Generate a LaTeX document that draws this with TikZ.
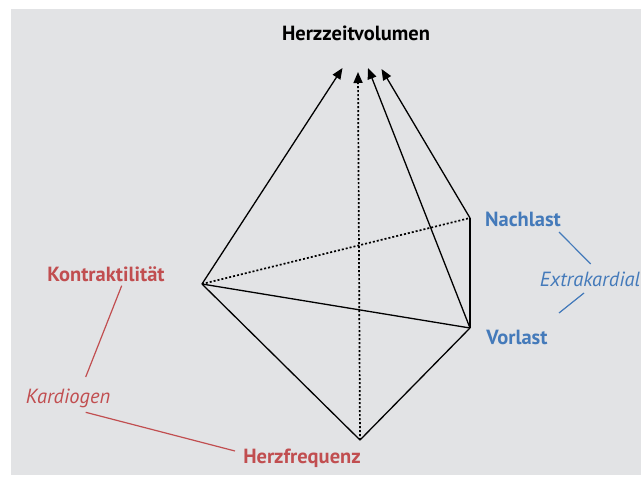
\documentclass[tikz,border=0pt]{standalone}
\usepackage{fontspec}
\setmainfont{PT Sans}
\usetikzlibrary{arrows.meta}
\definecolor{bg}{RGB}{226,227,229}
\definecolor{kred}{RGB}{193,78,80}
\definecolor{kblue}{RGB}{68,122,186}
\begin{document}
\begin{tikzpicture}[x=1pt,y=-1pt,
  edge/.style={line width=1.3pt, black},
  dotedge/.style={line width=1.7pt, black, dash pattern=on 2pt off 2pt},
  arr/.style={-{Triangle[length=11pt,width=9pt]}},
  lbl/.style={font=\fontsize{20.5}{24}\selectfont\bfseries, inner sep=0pt},
  ilbl/.style={font=\fontsize{20.5}{24}\selectfont\itshape, inner sep=0pt},
  redline/.style={kred, line width=1.2pt},
  blueline/.style={kblue, line width=1.2pt}]
\useasboundingbox (0,0) rectangle (641,477);
\fill[bg] (11,9) rectangle (641,475);
% vertices
\coordinate (K) at (202,284);
\coordinate (N) at (470,218);
\coordinate (V) at (470,328);
\coordinate (H) at (360,440);
% arrow ends
\coordinate (aK) at (342.5,68);
\coordinate (aH) at (358,72);
\coordinate (aV) at (368,68);
\coordinate (aN) at (381.5,69);
% edges
\draw[edge] (K) -- (V);
\draw[edge] (K) -- (H);
\draw[edge] (V) -- (H);
\draw[edge] (N) -- (V);
\draw[dotedge] (K) -- (N);
\draw[edge,arr] (K) -- (aK);
\draw[edge,arr] (V) -- (aV);
\draw[edge,arr] (N) -- (aN);
\draw[dotedge,arr] (H) -- (aH);
% labels
\node[lbl] (hzv) at (356,33) {Herzzeitvolumen};
\node[lbl,kblue] (nach) at (523,219) {Nachlast};
\node[lbl,kblue] (vor) at (517,337) {Vorlast};
\node[ilbl,kblue] (extra) at (590,279) {Extrakardial};
\node[lbl,kred] (kon) at (106,274) {Kontraktilität};
\node[ilbl,kred] (kard) at (68,398) {Kardiogen};
\node[lbl,kred] (hf) at (302,458) {Herzfrequenz};
% connector lines
\coordinate (b1s) at (559,232);
\coordinate (b1e) at (590.7,264);
\coordinate (b2s) at (584,293);
\coordinate (b2e) at (559,313);
\draw[blueline] (b1s) -- (b1e);
\draw[blueline] (b2s) -- (b2e);
\coordinate (r1s) at (121.7,285.7);
\coordinate (r1e) at (85.7,377);
\coordinate (r2s) at (85.7,412.3);
\coordinate (r2e) at (235,451);
\draw[redline] (r1s) -- (r1e);
\draw[redline] (r2s) -- (r2e);
\end{tikzpicture}
\end{document}
